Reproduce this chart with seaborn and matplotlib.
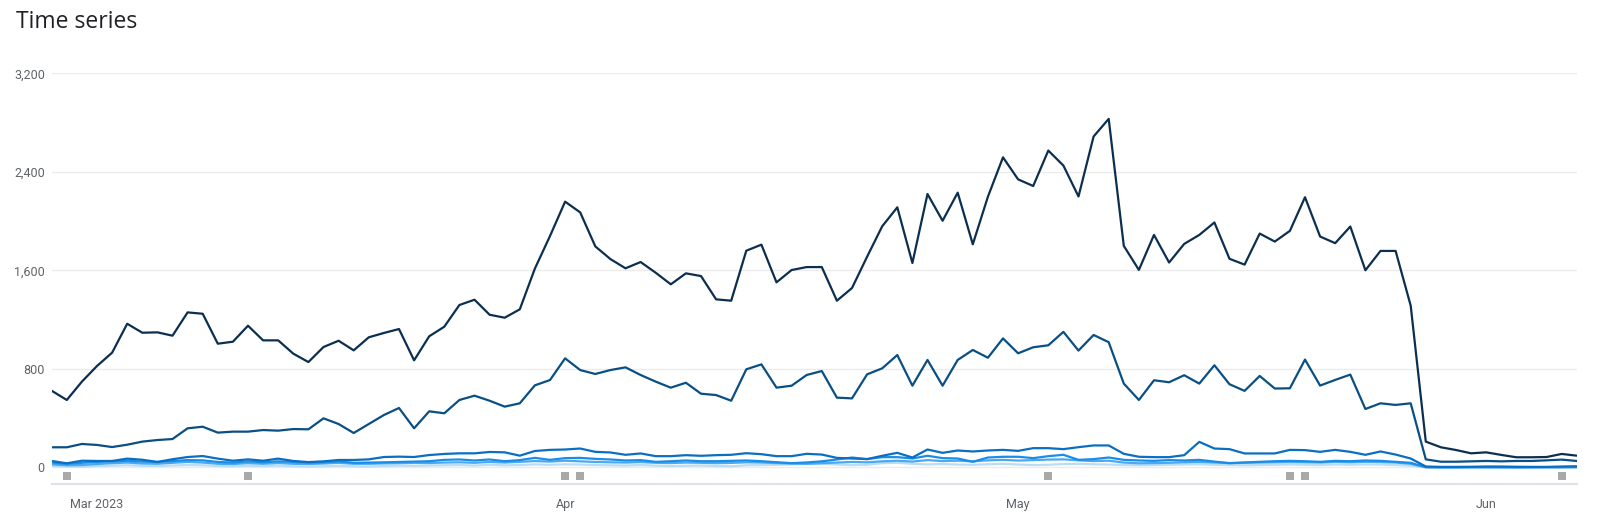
import numpy as np
import pandas as pd
import matplotlib
matplotlib.use("Agg")
import matplotlib.pyplot as plt
import matplotlib.dates as mdates
import seaborn as sns

# ---------------- data ----------------
start_date = "2023-02-26"
n_days = 102

series_names = ["S1", "S2", "S3", "S4", "S5", "S6"]
series_colors = ["#0c2f50", "#0a4f84", "#0a6fc2", "#1a8ee6", "#4aa9f2", "#b9dcf7"]

s1 = [623, 548, 697, 824, 932, 1167, 1094, 1097, 1070, 1259, 1248, 1005, 1021, 1151, 1032, 1032,
      924, 856, 978, 1029, 951, 1057, 1092, 1124, 870, 1065, 1143, 1319, 1362, 1240, 1216, 1284, 1615,
      1879, 2158, 2071, 1795, 1692, 1617, 1668, 1581, 1487, 1576, 1554, 1365, 1354, 1760, 1809, 1503,
      1603, 1627, 1627, 1354, 1457, 1711, 1958, 2112, 1660, 2220, 2003, 2231, 1812, 2198, 2518, 2339, 2285,
      2573, 2451, 2200, 2687, 2830, 1799, 1604, 1888, 1664, 1815, 1888, 1989, 1694, 1647, 1899, 1834,
      1921, 2194, 1875, 1821, 1956, 1601, 1758, 1758, 1314, 210, 164, 142, 115, 123, 102, 83, 83, 85, 110, 96]
s2 = [164, 164, 191, 183, 166, 185, 210, 223, 231, 318, 331, 283, 291, 291, 304, 299, 312, 310, 399,
      353, 280, 353, 426, 483, 318, 456, 440, 548, 583, 542, 494, 521, 667,
      710, 886, 791, 759, 791, 813, 751, 697, 648, 688, 599, 588, 542, 797, 837, 648, 664, 751, 783, 567,
      561, 756, 805, 913, 664, 873, 664, 873, 954, 891, 1048, 927, 976,
      992, 1101, 949, 1076, 1017, 681, 548, 708, 692, 749, 681, 830, 676, 622, 743, 641, 643, 876, 665,
      711, 754, 475, 521, 508, 521, 66, 47, 47, 50, 53, 50, 53, 53, 58, 64, 53]
s3 = [53, 34, 55, 53, 53, 72, 63, 45, 67, 85, 93, 72, 55, 66, 55, 72, 53, 44, 50, 61, 61, 66, 85, 88,
      85, 101, 110, 115, 115, 126, 123, 96, 134,
      143, 146, 154, 127, 122, 103, 114, 92, 92, 100, 95, 100, 103, 116, 108, 92, 92, 111, 105,
      78, 73, 68, 95, 119, 81, 146, 119, 138, 130, 138, 143, 135, 157, 157, 149, 165, 179, 179, 111, 87,
      84, 84, 100, 208,
      154, 149, 114, 114, 114, 143, 141, 127, 143, 127, 103, 130, 105, 73, 8,
      5, 5, 6, 8, 8, 6, 5, 5, 8, 10]
s4 = [40, 30, 38, 45, 50, 55, 48, 45, 52, 60, 58, 45, 40, 50, 42, 50, 45, 40, 42, 50, 38, 40, 42, 45, 48,
      51, 62, 65, 57, 65, 51, 60, 78, 62, 76, 78, 70, 65, 57, 60, 46, 51, 57, 51, 51, 54, 57, 51, 43, 35,
      41, 50, 65, 81, 68, 84, 84, 73, 95, 76, 73, 46, 81, 87, 87, 76, 92, 103, 62, 68, 81, 62, 57, 54, 60,
      57, 62, 48, 35, 41, 46, 51, 54, 51, 46, 54, 51, 57, 54, 46, 38, 3,
      2, 2, 3, 3, 3, 2, 2, 3, 3, 4]
s5 = [25, 18, 20, 28, 35, 40, 32, 30, 38, 45,
      40, 30, 28, 35, 30, 36, 30, 28, 32, 38,
      30, 30, 33, 35, 38, 36, 40, 42, 38, 45,
      40, 46, 52, 48, 55, 50, 45, 42, 40, 44,
      38, 36, 40, 38, 35, 37, 42, 40, 36, 32,
      30, 35, 40, 45, 42, 50, 55, 48, 60, 52,
      55, 50, 58, 62, 56, 60, 64, 66, 58, 52,
      55, 40, 34, 36, 38, 42, 45, 40, 36, 38,
      40, 42, 44, 42, 40, 45, 42, 46, 44, 40,
      30, 2, 1, 1, 2, 2, 1, 1, 2, 2, 2, 3]
s6 = [10, 8, 6, 12, 15, 18, 14, 12, 16, 20,
      18, 12, 10, 14, 12, 15, 10, 8, 10, 14,
      10, 8, 12, 15, 14, 16, 18, 20, 16, 22,
      18, 20, 25, 22, 26, 24, 20, 18, 16, 20,
      15, 12, 14, 16, 12, 10, 18, 20, 22, 25,
      28, 30, 24, 20, 22, 35, 38, 30, 25, 28,
      24, 22, 26, 30, 24, 20, 22, 28, 30, 26,
      24, 20, 18, 20, 22, 24, 26, 22, 20, 18,
      20, 22, 24, 22, 20, 24, 22, 25, 24, 20,
      15, 1, 1, 1, 1, 1, 1, 1, 1, 1, 1, 1]

annotation_dates = ["2023-02-27", "2023-03-11", "2023-04-01", "2023-04-02",
                    "2023-05-03", "2023-05-19", "2023-05-20", "2023-06-06"]

y_ticks = [0, 800, 1600, 2400, 3200]
x_tick_dates = ["2023-03-01", "2023-04-01", "2023-05-01", "2023-06-01"]
x_tick_labels = ["Mar 2023", "Apr", "May", "Jun"]

# ---------------- build frame ----------------
dates = pd.date_range(start_date, periods=n_days, freq="D")
all_vals = [s1, s2, s3, s4, s5, s6]
frames = []
for name, vals in zip(series_names, all_vals):
    frames.append(pd.DataFrame({"date": dates, "value": vals, "series": name}))
df = pd.concat(frames, ignore_index=True)

# ---------------- style ----------------
sns.set_theme(style="white")
plt.rcParams["font.family"] = ["Roboto", "DejaVu Sans"]

W, H = 1597, 518
fig = plt.figure(figsize=(W / 100, H / 100), dpi=100)
left_px, right_px = 51.7, 1576.8
top_px, bottom_px = 73.3, 484.0
ax = fig.add_axes([left_px / W, (H - bottom_px) / H,
                   (right_px - left_px) / W, (bottom_px - top_px) / H])

ax.set_ylim(-134, 3200)
ax.set_xlim(dates[0], dates[-1])

# grid lines
for yv in y_ticks:
    ax.axhline(yv, color="#ebebeb", lw=1.0, zorder=0)

sns.lineplot(data=df, x="date", y="value", hue="series",
             hue_order=series_names[::-1], palette=dict(zip(series_names, series_colors)),
             linewidth=1.6, legend=False, ax=ax, zorder=3)

# annotation markers
ann = pd.to_datetime(annotation_dates)
ax.scatter(ann, [-69] * len(ann), marker="s", s=30, color="#a9a9a9",
           linewidths=0, zorder=4, clip_on=False)

# axes styling
for side in ["top", "right", "left"]:
    ax.spines[side].set_visible(False)
ax.spines["bottom"].set_color("#e0e0e8")
ax.spines["bottom"].set_linewidth(1.5)

ax.set_yticks(y_ticks)
ax.set_yticklabels([f"{v:,}" for v in y_ticks])
ax.tick_params(axis="y", length=0, pad=5, labelsize=9, labelcolor="#5f6368")

ax.set_xticks(pd.to_datetime(x_tick_dates))
ax.set_xticklabels(x_tick_labels)
ax.tick_params(axis="x", length=4, width=1, color="#e0e0e8", pad=6,
               labelsize=9, labelcolor="#5f6368", direction="out")
ax.set_xlabel("")
ax.set_ylabel("")
ax.grid(False)

fig.text(16 / W, 1 - 22.5 / H, "Time series", ha="left", va="center",
         fontsize=16.5, fontweight="medium", color="#202124",
         family=["Open Sans", "DejaVu Sans"])

fig.savefig("out.png", dpi=100, facecolor="white")
